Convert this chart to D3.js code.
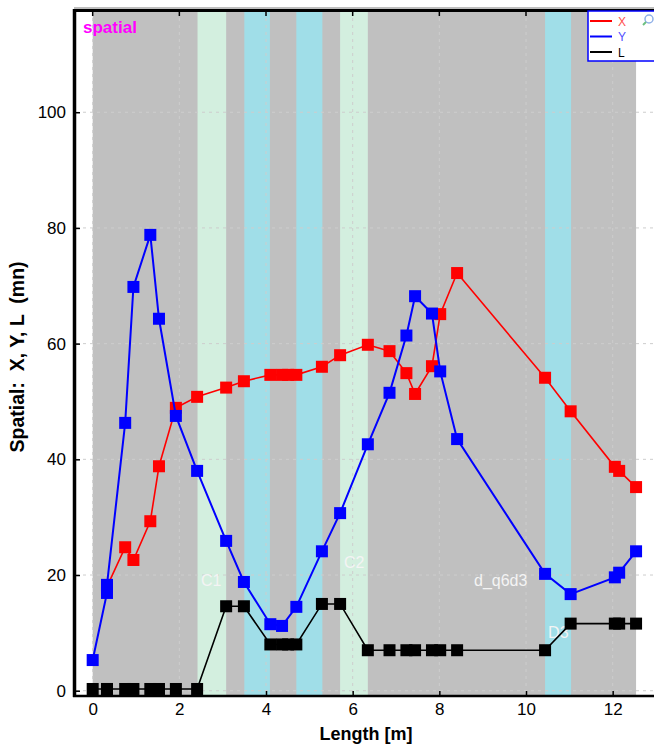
<!DOCTYPE html>
<html>
<head>
<meta charset="utf-8">
<script src="https://cdn.jsdelivr.net/npm/d3@7"></script>
<style>
  body { margin: 0; background: #fff; }
  svg { display: block; font-family: "Liberation Sans", Arial, sans-serif; }
</style>
</head>
<body>
<div id="chart"></div>
<script>
// positions along the length [m]
const lengthM  = [0, 0.33, 0.33, 0.75, 0.94, 1.33, 1.53, 1.92, 2.41, 3.08, 3.49, 4.10, 4.37, 4.51, 4.70, 5.29, 5.71, 6.35, 6.85, 7.24, 7.44, 7.83, 8.02, 8.41, 10.44, 11.03, 12.05, 12.15, 12.54];
const spatialX = [null, null, 18.0, 24.8, 22.6, 29.3, 38.8, 48.9, 50.8, 52.4, 53.5, 54.6, 54.6, 54.6, 54.6, 56.0, 58.0, 59.8, 58.7, 54.9, 51.3, 56.1, 65.1, 72.2, 54.1, 48.3, 38.7, 38.0, 35.2];
const spatialY = [5.3, 16.9, 18.3, 46.3, 69.8, 78.8, 64.3, 47.5, 38.0, 25.9, 18.8, 11.5, 11.2, null, 14.5, 24.1, 30.7, 42.6, 51.5, 61.4, 68.2, 65.2, 55.2, 43.5, 20.2, 16.7, 19.6, 20.4, 24.1];
const spatialL = [0.3, 0.3, 0.3, 0.3, 0.3, 0.3, 0.3, 0.3, 0.3, 14.6, 14.6, 8.0, 8.0, 8.0, 8.0, 15.0, 15.0, 7.0, 7.0, 7.0, 7.0, 7.0, 7.0, 7.0, 7.0, 11.6, 11.6, 11.6, 11.6];

const xTicks = [0, 2, 4, 6, 8, 10, 12];
const yTicks = [0, 20, 40, 60, 80, 100];

// background zones
const bandFrom = [0, 2.42, 3.50, 4.70, 5.71, 10.44];
const bandTo   = [12.54, 3.08, 4.09, 5.30, 6.35, 11.04];
const bandKind = ["base", "core", "gap", "gap", "core", "gap"];

const zoneLabels = ["C1", "C2", "d_q6d3", "D3"];
const zoneLabelX = [2.50, 5.80, 8.80, 10.51];
const zoneLabelY = [18.1, 21.2, 18.1, 9.1];

const seriesNames = ["X", "Y", "L"];

const width = 654;
const height = 751;
const margin = { top: 11, right: -2, bottom: 56, left: 76 };
const innerWidth = width - margin.left - margin.right;
const innerHeight = height - margin.top - margin.bottom;

const xScale = d3.scaleLinear()
  .domain([-0.385, 13.0])
  .range([0, innerWidth]);
const yScale = d3.scaleLinear()
  .domain([-0.74, 117.5])
  .range([innerHeight, 0]);

const colorScale = d3.scaleOrdinal()
  .domain(seriesNames)
  .range(["#ff0000", "#0000ff", "#000000"]);
const bandColor = d3.scaleOrdinal()
  .domain(["base", "core", "gap"])
  .range(["#c0c0c0", "#d3efdf", "#a0dee8"]);

const svg = d3.select("#chart")
  .append("svg")
    .attr("width", width)
    .attr("height", height);

const inner = svg
  .append("g")
    .attr("transform", `translate(${margin.left}, ${margin.top})`);

// zones
inner.selectAll(".band")
  .data(bandFrom.map((f, i) => ({ from: f, to: bandTo[i], kind: bandKind[i] })))
  .join("rect")
    .attr("class", "band")
    .attr("x", d => xScale(d.from))
    .attr("y", 0)
    .attr("width", d => xScale(d.to) - xScale(d.from))
    .attr("height", innerHeight)
    .attr("fill", d => bandColor(d.kind));

// dashed grid
inner.selectAll(".grid-y")
  .data(yTicks)
  .join("line")
    .attr("class", "grid-y")
    .attr("x1", 0)
    .attr("x2", innerWidth)
    .attr("y1", d => yScale(d))
    .attr("y2", d => yScale(d))
    .attr("stroke", "#cdcdcd")
    .attr("stroke-dasharray", "3,4");
inner.selectAll(".grid-x")
  .data(xTicks)
  .join("line")
    .attr("class", "grid-x")
    .attr("x1", d => xScale(d))
    .attr("x2", d => xScale(d))
    .attr("y1", 0)
    .attr("y2", innerHeight)
    .attr("stroke", "#cdcdcd")
    .attr("stroke-dasharray", "3,4");

// zone labels
inner.selectAll(".zone-label")
  .data(zoneLabels)
  .join("text")
    .attr("class", "zone-label")
    .attr("x", (d, i) => xScale(zoneLabelX[i]))
    .attr("y", (d, i) => yScale(zoneLabelY[i]))
    .attr("fill", "#f4f4f4")
    .attr("font-size", "16px")
    .text(d => d);

// series
const allSeries = [spatialX, spatialY, spatialL].map((vals, i) => ({
  key: seriesNames[i],
  points: lengthM.map((m, j) => ({ m, v: vals[j] })).filter(p => p.v !== null)
}));

const lineGen = d3.line()
  .x(d => xScale(d.m))
  .y(d => yScale(d.v));

const markerSize = 12;
allSeries.forEach(serie => {
  inner.append("path")
    .datum(serie.points)
    .attr("fill", "none")
    .attr("stroke", colorScale(serie.key))
    .attr("stroke-width", serie.key === "Y" ? 2 : 1.6)
    .attr("d", lineGen);
  inner.selectAll(`.mark-${serie.key}`)
    .data(serie.points)
    .join("rect")
      .attr("class", `mark-${serie.key}`)
      .attr("x", d => xScale(d.m) - markerSize / 2)
      .attr("y", d => yScale(d.v) - markerSize / 2)
      .attr("width", markerSize)
      .attr("height", markerSize)
      .attr("fill", colorScale(serie.key));
});

// axes
const leftAxis = d3.axisLeft(yScale)
  .tickValues(yTicks)
  .tickSizeInner(-4)
  .tickSizeOuter(0)
  .tickPadding(10);
inner.append("g")
    .attr("class", "axis axis-y")
    .call(leftAxis);

const bottomAxis = d3.axisBottom(xScale)
  .tickValues(xTicks)
  .tickSizeInner(-4)
  .tickSizeOuter(0)
  .tickPadding(8);
inner.append("g")
    .attr("class", "axis axis-x")
    .attr("transform", `translate(0, ${innerHeight})`)
    .call(bottomAxis);

// small inward ticks along the top frame, no labels
inner.selectAll(".tick-top")
  .data(xTicks)
  .join("line")
    .attr("class", "tick-top")
    .attr("x1", d => xScale(d))
    .attr("x2", d => xScale(d))
    .attr("y1", 0)
    .attr("y2", 5)
    .attr("stroke", "#000")
    .attr("stroke-width", 1.5);

inner.selectAll(".axis .domain").remove();
inner.selectAll(".axis line").attr("stroke", "#000").attr("stroke-width", 1.5);
inner.selectAll(".axis text")
  .attr("font-family", "'Liberation Sans', Arial, sans-serif")
  .attr("font-size", "17px")
  .attr("fill", "#000");

// frame
svg.append("line")
  .attr("x1", margin.left - 2).attr("x2", width)
  .attr("y1", 8).attr("y2", 8)
  .attr("stroke", "#a8a8a8").attr("stroke-width", 1.5);
svg.append("line")
  .attr("x1", margin.left - 2).attr("x2", width)
  .attr("y1", margin.top - 0.5).attr("y2", margin.top - 0.5)
  .attr("stroke", "#000").attr("stroke-width", 3);
svg.append("line")
  .attr("x1", margin.left - 1.5).attr("x2", margin.left - 1.5)
  .attr("y1", margin.top - 2).attr("y2", margin.top + innerHeight + 2)
  .attr("stroke", "#000").attr("stroke-width", 3.5);
svg.append("line")
  .attr("x1", margin.left - 3).attr("x2", width)
  .attr("y1", margin.top + innerHeight + 1).attr("y2", margin.top + innerHeight + 1)
  .attr("stroke", "#000").attr("stroke-width", 2.5);

// titles
svg.append("text")
  .attr("x", 83)
  .attr("y", 33)
  .attr("fill", "#ff00ff")
  .attr("font-weight", "bold")
  .attr("font-size", "17px")
  .text("spatial");

svg.append("text")
  .attr("x", 366)
  .attr("y", 740)
  .attr("text-anchor", "middle")
  .attr("font-weight", "bold")
  .attr("font-size", "18px")
  .text("Length [m]");

svg.append("text")
  .attr("transform", "translate(24, 357) rotate(-90)")
  .attr("text-anchor", "middle")
  .attr("font-weight", "bold")
  .attr("font-size", "19.5px")
  .style("white-space", "pre")
  .text("Spatial:  X, Y, L  (mn)");

// legend
const legend = svg.append("g")
  .attr("transform", "translate(588, 11)");
legend.append("rect")
  .attr("width", 72)
  .attr("height", 50)
  .attr("fill", "#fff")
  .attr("stroke", "#0000ff")
  .attr("stroke-width", 1.5);
const legendText = d3.scaleOrdinal()
  .domain(seriesNames)
  .range(["#ff5050", "#5050ff", "#000000"]);
seriesNames.forEach((name, i) => {
  const ly = 10 + i * 15.5;
  legend.append("line")
    .attr("x1", 2).attr("x2", 24)
    .attr("y1", ly).attr("y2", ly)
    .attr("stroke", colorScale(name))
    .attr("stroke-width", 2);
  legend.append("text")
    .attr("x", 30)
    .attr("y", ly + 4.5)
    .attr("font-size", "12px")
    .attr("fill", legendText(name))
    .text(name);
});
// zoom glyph
legend.append("circle")
  .attr("cx", 61).attr("cy", 8).attr("r", 4)
  .attr("fill", "none").attr("stroke", "#8fb0e8").attr("stroke-width", 1.5);
legend.append("line")
  .attr("x1", 58).attr("y1", 11).attr("x2", 55).attr("y2", 14)
  .attr("stroke", "#6cc080").attr("stroke-width", 2);
</script>
</body>
</html>
